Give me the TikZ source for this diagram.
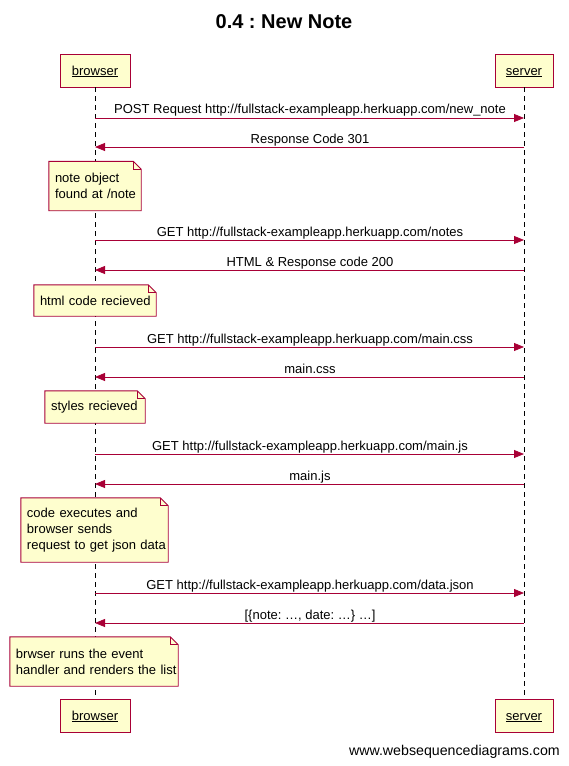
\documentclass[tikz,border=0pt]{standalone}
\usepackage{fontspec}
\setmainfont{Liberation Sans}
\usetikzlibrary{arrows.meta}
\definecolor{wsdred}{HTML}{A80036}
\definecolor{wsdfill}{HTML}{FEFECE}
\frenchspacing
\newcommand\wsdfont{\fontsize{13}{16}\selectfont}
% outline of a note with a folded top-right corner
\newcommand\foldnote[1]{%
  \fill[white] ([xshift=-8pt]#1.north east) -- (#1.north east) -- ([yshift=-8pt]#1.north east) -- cycle;
  \draw[noteline] (#1.south west) -- (#1.north west) -- ([xshift=-8pt]#1.north east)
    -- ([yshift=-8pt]#1.north east) -- (#1.south east) -- cycle;
  \draw[noteline] ([xshift=-8pt]#1.north east) |- ([yshift=-8pt]#1.north east);}
\begin{document}
\begin{tikzpicture}[x=1pt,y=-1pt,
  actor/.style={draw=wsdred,fill=wsdfill,line width=0.9pt,minimum height=33pt,
    inner sep=0pt,text height=11pt,text depth=2pt,font=\wsdfont},
  lifeline/.style={black,line width=0.8pt,dash pattern=on 5pt off 4pt},
  msg/.style={wsdred,line width=0.8pt,-{Triangle[length=10pt,width=8pt]}},
  msglabel/.style={font=\wsdfont,inner sep=0pt,anchor=base},
  note/.style={fill=wsdfill,inner xsep=6pt,inner ysep=0pt,align=left,font=\wsdfont},
  noteline/.style={wsdred,line width=0.9pt,line join=miter}
]
\useasboundingbox (0,0) rectangle (568,766);
\fill[white] (0,0) rectangle (568,766);

% title
\node[font=\fontsize{20}{24}\selectfont\bfseries] (title) at (284,22) {0.4 : New Note};

% participants, top and bottom
\node[actor,minimum width=70pt] (browser) at (95,70.5) {\underline{browser}};
\node[actor,minimum width=58pt] (server) at (524,70.5) {\underline{server}};
\node[actor,minimum width=70pt] (browserB) at (95,715.5) {\underline{browser}};
\node[actor,minimum width=58pt] (serverB) at (524,715.5) {\underline{server}};

% lifelines
\draw[lifeline] (browser.south) -- (browserB.north);
\draw[lifeline] (server.south) -- (serverB.north);

% message end points on the lifelines
\foreach \i/\y in {1/118,2/147,3/240,4/270,5/347,6/377,7/454,8/484,9/593,10/623}{
  \coordinate (b\i) at (95,\y);
  \coordinate (s\i) at (524,\y);
}

% messages
\draw[msg] (b1) -- (s1);
\node[msglabel] (m1) at (310,113) {POST Request http://fullstack-exampleapp.herkuapp.com/new\_note};
\draw[msg] (s2) -- (b2);
\node[msglabel] (m2) at (310,143) {Response Code 301};

\node[note,text width=80pt,minimum height=49pt] (n1) at (95,186) {\mbox{note object}\\\mbox{found at /note}};
\foldnote{n1}

\draw[msg] (b3) -- (s3);
\node[msglabel] (m3) at (310,236) {GET http://fullstack-exampleapp.herkuapp.com/notes};
\draw[msg] (s4) -- (b4);
\node[msglabel] (m4) at (310,266) {HTML \& Response code 200};

\node[note,text width=110pt,minimum height=31pt] (n2) at (95,300.5) {\mbox{html code recieved}};
\foldnote{n2}

\draw[msg] (b5) -- (s5);
\node[msglabel] (m5) at (310,343) {GET http://fullstack-exampleapp.herkuapp.com/main.css};
\draw[msg] (s6) -- (b6);
\node[msglabel] (m6) at (310,373) {main.css};

\node[note,text width=88pt,minimum height=32pt] (n3) at (95,407) {\mbox{styles recieved}};
\foldnote{n3}

\draw[msg] (b7) -- (s7);
\node[msglabel] (m7) at (310,450) {GET http://fullstack-exampleapp.herkuapp.com/main.js};
\draw[msg] (s8) -- (b8);
\node[msglabel] (m8) at (310,480) {main.js};

\node[note,text width=135pt,minimum height=64pt] (n4) at (94.5,530) {\mbox{code executes and}\\\mbox{browser sends}\\\mbox{request to get json data}};
\foldnote{n4}

\draw[msg] (b9) -- (s9);
\node[msglabel] (m9) at (310,589) {GET http://fullstack-exampleapp.herkuapp.com/data.json};
\draw[msg] (s10) -- (b10);
\node[msglabel] (m10) at (310,619) {[\{note: \ldots, date: \ldots\} \ldots]};

\node[note,text width=156pt,minimum height=49pt] (n5) at (94,661.5) {\mbox{brwser runs the event}\\\mbox{handler and renders the list}};
\foldnote{n5}

% footer
\node[font=\fontsize{14.2}{16}\selectfont,anchor=base east,inner sep=0pt] (footer) at (560,755) {www.websequencediagrams.com};
\end{tikzpicture}
\end{document}
